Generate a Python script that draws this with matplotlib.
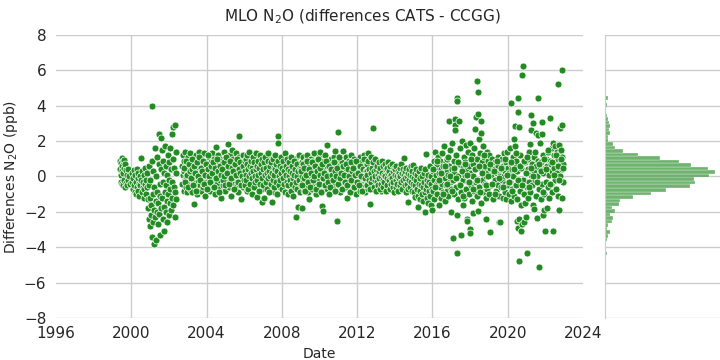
import numpy as np
import matplotlib
matplotlib.use("Agg")
import matplotlib.pyplot as plt

# sample dates are years since 2000, diffs are CATS - CCGG in ppb

# 1999 - 2002 (start of record, noisy period)
t_early = [-0.60, -0.58, -0.57, -0.55, -0.53, -0.52, -0.50, -0.48, -0.47, -0.45, -0.43, -0.42, -0.40,
           -0.38, -0.37, -0.35, -0.33, -0.30, -0.28, -0.25, -0.22, -0.20, -0.17, -0.12, -0.08,
           0.02, 0.05, 0.08, 0.10, 0.13, 0.15, 0.18, 0.20, 0.23, 0.25, 0.28, 0.30, 0.33, 0.35, 0.38,
           0.40, 0.43, 0.45, 0.48, 0.50, 0.52, 0.55, 0.58, 0.60, 0.63, 0.65, 0.68, 0.70, 0.73, 0.75,
           0.78, 0.80, 0.83, 0.85, 0.88,
           0.90, 0.92, 0.94, 0.96, 0.98, 1.00, 1.02, 1.04, 1.06, 1.08, 1.10, 1.12, 1.14, 1.15, 1.17,
           1.19, 1.21, 1.23, 1.25, 1.27, 1.29, 1.31, 1.33, 1.35, 1.37, 1.39, 1.41, 1.43, 1.45, 1.47,
           1.49, 1.50, 1.52, 1.54, 1.56, 1.58, 1.60,
           1.62, 1.64, 1.66, 1.68, 1.70, 1.72, 1.74, 1.76, 1.78, 1.80, 1.82, 1.84, 1.86, 1.88, 1.90,
           1.92, 1.94, 1.96, 1.98, 2.00, 2.02, 2.04, 2.06, 2.08, 2.10, 2.12, 2.14, 2.16, 2.18, 2.20,
           2.22, 2.24, 2.26, 2.28, 2.30, 2.32, 2.34, 2.36, 2.38, 2.40]
d_early = [0.45, 0.9, -0.3, 0.75, 0.1, 1.05, -0.45, 0.6, 0.3, 0.85, -0.5, 0.2, 0.95,
           -0.2, 0.5, 0.7, -0.6, 0.35, -0.35, 0.1, -0.5, 0.4, -0.2, 0.05, -0.4,
           -0.3, 0.2, -0.7, -0.1, 0.35, -0.5, -0.9, 0.1, -0.3, -1.0, 0.4, -0.6, -0.1, -0.8, 0.2,
           -0.4, -1.1, 0.0, -0.5, 1.05, -0.2, -0.9, 0.3, -0.6, -0.3, -1.2, 0.1, -0.7, -0.4, 0.5,
           -1.0, -0.2, -0.6, 0.2, -1.3,
           -1.8, -0.5, -2.4, 0.6, -1.2, -2.8, -0.2, -1.6, -2.2, 0.9, 4.0, -3.4, -1.0, -2.6, 0.3,
           -1.9, -3.8, -0.6, 1.6, -2.3, -1.4, -3.6, 0.0, -2.0, 1.1, -0.9, -2.7, -1.5, 0.7, -2.1,
           2.4, -0.4, -3.3, -1.1, 2.2, -1.8, 0.4,
           -1.2, 1.5, -2.4, -0.3, 0.9, -1.7, -3.1, 0.2, -0.9, 1.7, -2.0, -0.5, 0.6, -1.4, -2.6,
           0.1, 1.2, -1.0, -0.2, -2.2, 0.8, -1.5, 1.6, -0.7, -1.9, 0.4, 2.4, -1.2, -0.3, 1.0,
           -1.6, 2.8, -0.6, 0.5, -2.3, 2.9, -0.9, 1.4, -1.3, 0.2]

# 2002.7 - 2009
t_mid1 = [2.70, 2.72, 2.74, 2.76, 2.78, 2.80, 2.82, 2.84, 2.86, 2.88, 2.90, 2.92, 2.94, 2.96, 2.98,
          3.00, 3.02, 3.04, 3.06, 3.08, 3.10, 3.12, 3.14, 3.16, 3.18, 3.20, 3.22, 3.24, 3.26, 3.28,
          3.30, 3.32, 3.35, 3.37, 3.39, 3.41, 3.43, 3.45, 3.47, 3.49, 3.51, 3.53, 3.55, 3.57, 3.59,
          3.61, 3.63, 3.65, 3.67, 3.69, 3.71, 3.73, 3.75, 3.77, 3.79, 3.81, 3.83, 3.85, 3.87, 3.89,
          3.91, 3.93, 3.95, 3.97, 3.99,
          4.01, 4.03, 4.06, 4.08, 4.11, 4.13, 4.15, 4.18, 4.20, 4.23, 4.25, 4.27, 4.30, 4.32, 4.35,
          4.37, 4.39, 4.42, 4.44, 4.47, 4.50, 4.52, 4.54, 4.57, 4.59, 4.61, 4.64, 4.66, 4.69, 4.71,
          4.73, 4.76, 4.78, 4.81, 4.83, 4.85, 4.88, 4.90, 4.93, 4.95, 4.97, 5.00, 5.02, 5.05, 5.07,
          5.09, 5.12, 5.15, 5.17, 5.19, 5.22, 5.24, 5.26, 5.29, 5.31, 5.34, 5.36, 5.38, 5.41, 5.43,
          5.46, 5.48, 5.50, 5.53, 5.55, 5.58, 5.60, 5.62, 5.65, 5.67, 5.70, 5.72, 5.74, 5.77, 5.79,
          5.81, 5.84, 5.86, 5.89, 5.91, 5.93, 5.96, 5.98]
d_mid1 = [0.6, -0.4, 1.2, 0.1, -0.8, 0.9, 0.3, -0.2, 1.4, 0.5, -0.6, 0.0, 0.8, -0.9, 0.4,
          1.1, -0.3, 0.2, 0.7, -0.5, 1.3, 0.1, -0.7, 0.5, 0.9, -0.1, 0.3, -0.9, 0.6, 1.0,
          -0.4, 0.2, -1.55, 0.8, -0.2, 0.4, 1.2, -0.6, 0.0, 0.7, -1.0, 0.3, 0.9, -0.3, 0.5,
          1.4, -0.5, 0.1, 0.6, -0.8, 0.2, 1.0, -0.2, 0.4, -0.6, 0.8, 0.0, 1.3, -0.4, 0.3,
          0.7, -1.1, 0.1, 0.5, -0.3,
          0.4, -0.5, 0.9, 0.1, -0.2, 1.1, 0.5, -0.8, 0.3, 0.8, -0.1, 1.3, 0.2, -0.6, 0.6,
          1.0, -0.3, 0.4, -1.0, 0.7, 1.65, 0.0, 0.5, -0.4, 1.2, 0.2, -0.7, 0.8, 0.3, -0.2,
          1.0, 0.6, -1.2, 0.1, 0.9, -0.5, 0.4, 1.4, -0.1, 0.7, -0.8, 0.2, 1.1, -0.3, 0.5,
          0.0, 0.9, 1.82, -0.6, 0.3, 1.2, -0.2, 0.6, -1.1, 0.8, 0.1, 1.5, -0.4, 0.4, 1.0,
          -0.7, 0.2, 0.7, -0.1, 1.3, 0.5, -0.5, 0.0, 0.9, -0.9, 0.3, 2.28, 1.1, -0.3, 0.6,
          -1.3, 0.2, 0.8, -0.2, 1.2, 0.4, -0.6, 0.7]

t_mid2 = [6.02, 6.04, 6.07, 6.09, 6.12, 6.14, 6.16, 6.19, 6.21, 6.24, 6.27, 6.29, 6.31, 6.34, 6.36,
          6.39, 6.41, 6.44, 6.46, 6.48, 6.51, 6.53, 6.56, 6.58, 6.61, 6.63, 6.66, 6.68, 6.70, 6.73,
          6.75, 6.78, 6.80, 6.83, 6.85, 6.87, 6.90, 6.92, 6.95, 6.97, 7.00, 7.02, 7.05, 7.07, 7.09,
          7.12, 7.14, 7.17, 7.19, 7.22, 7.24, 7.27, 7.29, 7.31, 7.34, 7.36, 7.39, 7.41, 7.44, 7.46,
          7.48, 7.51, 7.53, 7.56, 7.58, 7.60, 7.63, 7.65, 7.68, 7.70, 7.73, 7.75, 7.78, 7.80, 7.82,
          7.85, 7.87, 7.90, 7.92, 7.95, 7.97, 8.00, 8.02, 8.05, 8.07, 8.10, 8.12, 8.15, 8.17, 8.20,
          8.22, 8.25, 8.27, 8.30, 8.32, 8.34, 8.37, 8.39, 8.42, 8.44, 8.47, 8.49, 8.52, 8.54, 8.56,
          8.59, 8.61, 8.64, 8.66, 8.69, 8.71, 8.73, 8.75, 8.78, 8.80, 8.83, 8.85, 8.88, 8.90, 8.93,
          8.95, 8.98]
d_mid2 = [0.3, -0.5, 1.0, 0.1, -0.2, 0.7, 1.2, -0.7, 0.4, 0.0, 1.4, 0.6, -0.4, 0.2, 0.9,
          -1.0, 0.5, -0.1, 1.1, 0.3, -0.6, 0.8, 0.0, -0.3, 1.3, 0.4, -1.18, 0.6, -0.2, 0.9,
          0.1, -0.8, 0.5, 1.2, -0.4, 0.2, 0.7, -0.1, 1.0, -1.46, 0.4, -0.5, 0.8, -1.23, 0.1,
          1.1, -0.3, 0.5, -0.7, 0.2, 0.9, -0.1, 1.3, 0.3, -0.9, 0.6, 0.0, -0.4, 0.8, -1.46,
          0.2, 1.0, -0.2, 0.5, -0.6, 0.1, 1.2, 0.4, -0.3, 0.7, -1.0, 0.3, 0.9, 2.29, 1.87,
          -0.5, 0.0, 0.6, -0.2, 1.1, 0.2, -0.7, 0.5, -0.1, 0.9, -0.4, 0.3, 1.3, -0.9, 0.1,
          0.6, -0.3, 1.0, -1.0, 0.4, -0.5, 0.0, 0.8, -0.2, 0.3, -0.8, 1.1, 0.2, -0.4, 0.6,
          -0.1, -1.1, 0.9, 0.1, -0.6, 0.4, -0.3, -2.3, 0.7, 0.0, -0.7, -1.7, 0.3, 1.2, -0.2,
          0.5, -0.9]

# 2009 - 2016
t_mid3 = [9.00, 9.02, 9.05, 9.07, 9.09, 9.12, 9.14, 9.16, 9.19, 9.21, 9.23, 9.26, 9.28, 9.30, 9.33,
          9.35, 9.37, 9.40, 9.42, 9.44, 9.46, 9.49, 9.51, 9.53, 9.56, 9.58, 9.60, 9.63, 9.65, 9.67,
          9.70, 9.72, 9.74, 9.77, 9.79, 9.81, 9.84, 9.86, 9.88, 9.91, 9.93, 9.95, 9.98, 10.00, 10.03,
          10.05, 10.07, 10.10, 10.12, 10.15, 10.17, 10.19, 10.21, 10.24, 10.26, 10.28, 10.31, 10.33,
          10.35, 10.38, 10.40, 10.42, 10.45, 10.47, 10.49, 10.52, 10.54, 10.56, 10.59, 10.61, 10.63,
          10.66, 10.68, 10.70, 10.73, 10.75, 10.77, 10.80, 10.83, 10.85, 10.87, 10.89, 10.92, 10.95,
          10.97, 10.99, 11.01, 11.04, 11.06, 11.08, 11.11, 11.13, 11.15, 11.18, 11.20, 11.22, 11.25,
          11.27, 11.29, 11.32, 11.34, 11.36, 11.39, 11.41, 11.43, 11.45, 11.48, 11.50, 11.52, 11.55,
          11.57, 11.59, 11.62, 11.64, 11.66, 11.69, 11.71, 11.73, 11.76, 11.78, 11.80, 11.83, 11.85,
          11.87, 11.90, 11.92, 11.94, 11.97, 11.99, 12.01, 12.04, 12.06, 12.08, 12.11, 12.13, 12.15,
          12.18, 12.20, 12.22, 12.25, 12.27, 12.29, 12.32, 12.34, 12.36, 12.39, 12.41, 12.43, 12.46,
          12.48]
d_mid3 = [0.4, -0.5, -1.8, 0.8, 0.0, -0.3, 1.1, 0.3, -0.8, 0.5, -0.1, 0.9, -0.6, 0.2, 1.2,
          -0.2, 0.6, -0.9, 0.1, 0.7, -1.29, 0.3, -0.4, 1.0, 0.0, -0.7, 0.5, -0.2, 0.9, 0.2,
          -0.5, 1.3, -0.1, 0.4, -1.0, 0.6, 0.0, -0.3, 0.8, 0.2, -0.6, 1.1, -0.2, 0.5, 1.37,
          -0.4, 0.1, 0.7, -0.8, -1.67, -1.95, 0.3, -0.1, 0.9, -0.5, 0.4, 1.2, -0.3,
          0.0, 0.6, 1.78, -0.7, 0.2, -0.2, 0.8, -1.0, 0.4, 0.0, 1.0, -0.4, 0.3,
          -0.1, 0.7, -0.6, 0.1, 1.1, -0.3, 0.5, 1.44, -0.8, 0.2, -0.2, 0.9, -2.52,
          2.5, 0.0, -0.5, 0.6, 0.3, -0.9, 1.0, -0.1, 0.4, -0.4, 0.8, 0.0, -0.7,
          1.44, 0.2, -0.3, 0.6, -0.1, 1.1, -0.6, 0.3, -1.23, 0.7, -0.2, 0.1, 0.9,
          -0.5, 0.4, -0.9, 0.0, 1.2, -0.3, 0.5, -0.1, 0.8, -0.7, 0.2, 1.0, -0.4,
          0.3, -0.1, 0.7, -1.0, 0.4, 0.0, -0.5, 0.9, 0.1, -0.3, 0.6, -0.8, 1.1,
          0.2, -0.2, 0.5, -0.6, 0.8, 0.0, -0.4, 0.4, 1.2, -0.1, -0.9, 0.6, 0.2,
          -0.3]

t_mid4 = [12.50, 12.53, 12.55, 12.57, 12.60, 12.62, 12.64, 12.67, 12.69, 12.71, 12.74, 12.76, 12.78,
          12.81, 12.83, 12.86, 12.88, 12.90, 12.93, 12.95, 12.97, 13.00, 13.02, 13.04, 13.07, 13.09,
          13.11, 13.14, 13.16, 13.18, 13.21, 13.23, 13.25, 13.28, 13.30, 13.32, 13.35, 13.37, 13.39,
          13.42, 13.44, 13.46, 13.49, 13.51, 13.53, 13.56, 13.58, 13.60, 13.63, 13.65, 13.67, 13.70,
          13.72, 13.74, 13.77, 13.79, 13.81, 13.84, 13.86, 13.88, 13.91, 13.93, 13.95, 13.98, 14.00,
          14.02, 14.05, 14.07, 14.09, 14.12, 14.14, 14.16, 14.19, 14.21, 14.23, 14.26, 14.28, 14.30,
          14.33, 14.35, 14.37, 14.40, 14.42, 14.44, 14.47, 14.50, 14.52, 14.54, 14.56, 14.59, 14.61,
          14.63, 14.66, 14.68, 14.70, 14.72, 14.75, 14.77, 14.79, 14.82, 14.84, 14.86, 14.89, 14.91,
          14.93, 14.95, 14.98, 15.00, 15.03, 15.05, 15.08, 15.10, 15.12, 15.15, 15.17, 15.20, 15.22,
          15.25, 15.27, 15.29, 15.32, 15.34, 15.36, 15.39, 15.41, 15.43, 15.46, 15.48, 15.50, 15.53,
          15.55, 15.58, 15.60, 15.62, 15.64, 15.66, 15.69, 15.71, 15.73, 15.76, 15.78, 15.80, 15.83,
          15.85, 15.87, 15.90, 15.92, 15.94, 15.97, 15.99]
d_mid4 = [0.7, -0.5, 0.1, 0.9, 1.35, -0.2, 0.4, -0.7, -1.57, 0.2, 1.1, -0.3, 0.5,
          -0.1, 0.8, 2.72, -0.6, 0.3, -0.2, 1.0, 0.0, -0.8, 0.4, -0.3, 0.6, 0.1,
          -0.5, 0.8, -0.1, 0.3, -0.7, 0.5, 0.0, -0.4, 0.9, 0.2, -0.2, 0.6, -0.6,
          0.1, -0.3, 0.7, 0.0, -0.8, 0.4, -0.1, 0.5, -0.5, 0.2, 0.8, -0.2, 0.3,
          -0.7, 0.0, 0.6, -0.4, 0.1, -0.1, 0.7, -0.6, 0.3, -0.3, 0.5, -0.9, 0.1,
          0.4, -0.2, -0.6, 0.6, 0.0, -0.4, 0.3, -0.8, 0.2, -0.1, 0.5, -0.5, 0.0,
          0.7, -0.3, 0.2, -0.7, 0.4, -0.2, 0.1, 1.03, -0.5, 0.3, -0.1, -0.9, 0.5,
          0.0, -0.4, 0.2, -0.7, -1.46, 0.4, -0.2, 0.1, -0.6, 0.6, -0.3, 0.0, -0.8,
          0.3, 0.65, -0.4, -0.1, -0.9, 0.2, -1.18, -0.5, 0.4, -0.2, -0.7, 0.1, -1.1,
          -1.7, -0.4, 0.3, -0.8, -0.1, -1.3, 0.5, -0.5, -1.0, 0.0, -0.6, -1.4, 0.2,
          -0.3, -0.9, -2.0, 0.4, -0.7, 1.27, -0.2, -1.2, -0.5, 0.1, -1.5, -0.3, -0.8,
          0.6, -1.1, -0.4, 0.0, -1.6, -0.7, -1.9]

# extra samples in the dense 2002.8 - 2016 band
t_fill1 = [2.80, 2.85, 2.90, 2.95, 3.00, 3.05, 3.10, 3.15, 3.20, 3.25,
           3.30, 3.35, 3.40, 3.45, 3.50, 3.55, 3.60, 3.65, 3.70, 3.75,
           3.80, 3.85, 3.90, 3.95, 4.00, 4.05, 4.10, 4.15, 4.20, 4.25,
           4.30, 4.35, 4.40, 4.45, 4.50, 4.55, 4.60, 4.65, 4.70, 4.75,
           4.80, 4.85, 4.90, 4.95, 5.00, 5.05, 5.10, 5.15, 5.20, 5.25,
           5.30, 5.35, 5.40, 5.45, 5.50, 5.55, 5.60, 5.65, 5.70, 5.75,
           5.80, 5.85, 5.90, 5.95, 6.00, 6.05, 6.10, 6.15, 6.20, 6.25,
           6.30, 6.35, 6.40, 6.45, 6.50, 6.55, 6.60, 6.65, 6.70, 6.75,
           6.80, 6.85, 6.90, 6.95, 7.00, 7.05, 7.10, 7.15, 7.20, 7.25,
           7.30, 7.35, 7.40, 7.45, 7.50, 7.55, 7.60, 7.65, 7.70, 7.75,
           7.80, 7.85, 7.90, 7.95, 8.00, 8.05, 8.10, 8.15, 8.20, 8.25,
           8.30, 8.35, 8.40, 8.45, 8.50, 8.55, 8.60, 8.65, 8.70, 8.75,
           8.80, 8.85, 8.90, 8.95]
d_fill1 = [0.5, -0.3, 0.9, 0.1, -0.6, 0.7, 0.3, -0.1, 1.0, 0.4,
           -0.5, 0.6, 0.2, -0.8, 0.8, 0.0, 1.1, -0.2, 0.5, 0.3,
           0.9, -0.4, 0.1, 0.7, -0.7, 0.4, 1.2, 0.0, -0.3, 0.6,
           0.2, 0.8, -0.6, 0.5, -0.1, 1.0, 0.3, -0.9, 0.6, 0.1,
           0.4, -0.2, 0.8, 0.0, -0.5, 1.1, 0.2, 0.6, -0.4, 0.9,
           -0.1, 0.5, 0.3, -0.7, 0.7, 0.1, 1.0, -0.3, 0.4, 0.2,
           0.8, -0.5, 0.0, 0.6, -0.2, 0.9, 0.3, -0.8, 0.5, 1.1,
           0.1, -0.4, 0.7, 0.2, -0.6, 0.4, 1.0, -0.1, 0.6, 0.0,
           -0.3, 0.8, 0.3, -0.7, 0.5, 0.9, -0.2, 0.1, 0.7, -0.5,
           0.4, 1.2, 0.0, -0.4, 0.6, 0.2, -0.9, 0.8, 0.3, -0.1,
           0.5, 1.0, -0.6, 0.1, 0.7, -0.3, 0.4, 0.9, -0.2, 0.2,
           0.6, -0.5, 0.0, 0.8, 0.3, -0.7, 0.5, -0.1, 1.0, 0.1,
           0.4, -0.4, 0.7, -0.2]

t_fill2 = [9.00, 9.05, 9.10, 9.15, 9.20, 9.25, 9.30, 9.35, 9.40, 9.45,
           9.50, 9.55, 9.60, 9.65, 9.70, 9.75, 9.80, 9.85, 9.90, 9.95,
           10.00, 10.05, 10.10, 10.15, 10.20, 10.25, 10.30, 10.35, 10.40, 10.45,
           10.50, 10.55, 10.60, 10.65, 10.70, 10.75, 10.80, 10.85, 10.90, 10.95,
           11.00, 11.05, 11.10, 11.15, 11.20, 11.25, 11.30, 11.35, 11.40, 11.45,
           11.50, 11.55, 11.60, 11.65, 11.70, 11.75, 11.80, 11.85, 11.90, 11.95,
           12.00, 12.05, 12.10, 12.15, 12.20, 12.25, 12.30, 12.35, 12.40, 12.45,
           12.50, 12.55, 12.60, 12.65, 12.70, 12.75, 12.80, 12.85, 12.90, 12.95,
           13.00, 13.05, 13.10, 13.15, 13.20, 13.25, 13.30, 13.35, 13.40, 13.45,
           13.50, 13.55, 13.60, 13.65, 13.70, 13.75, 13.80, 13.85, 13.90, 13.95,
           14.00, 14.05, 14.10, 14.15, 14.20, 14.25, 14.30, 14.35, 14.40, 14.45,
           14.50, 14.55, 14.60, 14.65, 14.70, 14.75, 14.80, 14.85, 14.90, 14.95,
           15.00, 15.05, 15.10, 15.15, 15.20, 15.25, 15.30, 15.35, 15.40, 15.45,
           15.50, 15.55, 15.60, 15.65, 15.70, 15.75, 15.80, 15.85, 15.90, 15.95]
d_fill2 = [0.3, -0.5, 0.7, -0.1, 0.5, -0.8, 0.1, 0.9, -0.3, 0.4,
           -0.6, 0.2, 0.8, -0.2, 0.0, 0.6, -0.7, 0.3, 1.0, -0.4,
           0.1, 0.5, -0.9, 0.7, -0.1, 0.2, -0.5, 0.9, 0.0, -0.3,
           0.6, -0.6, 0.4, 0.1, -0.2, 0.8, -0.8, 0.3, 0.0, 0.5,
           -0.4, 1.1, -0.1, 0.2, -0.7, 0.6, 0.1, -0.3, 0.7, -0.5,
           0.4, 0.0, -0.9, 0.8, -0.2, 0.3, 0.5, -0.6, 0.1, 0.9,
           -0.3, 0.2, -0.5, 0.6, 0.0, -0.8, 0.4, 1.0, -0.1, 0.3,
           -0.4, 0.3, -0.7, 0.5, -0.1, 0.1, -0.5, 0.6, -0.3, 0.0,
           0.4, -0.6, 0.2, -0.2, 0.7, -0.8, 0.1, -0.4, 0.3, -0.1,
           0.5, -0.5, 0.0, -0.7, 0.2, 0.4, -0.3, 0.1, -0.6, 0.6,
           -0.2, 0.3, -0.8, 0.0, 0.5, -0.4, 0.2, -0.1, -0.6, 0.4,
           0.1, -0.5, 0.3, -0.3, 0.0, -0.7, 0.5, -0.2, 0.2, -0.4,
           -0.8, 0.1, -0.5, -1.1, -0.2, 0.3, -0.7, -0.4, -1.0, 0.0,
           -0.6, -1.3, -0.3, 0.2, -0.9, -0.5, -0.1, -1.2, -0.4, -0.7]

# 2016 - 2019.6 (noisier)
t_late1 = [16.01, 16.03, 16.06, 16.08, 16.10, 16.13, 16.15, 16.18, 16.20, 16.23, 16.25, 16.28, 16.30,
           16.33, 16.35, 16.38, 16.40, 16.43, 16.45, 16.48, 16.50, 16.53, 16.55, 16.58, 16.60, 16.63,
           16.65, 16.68, 16.70, 16.73, 16.75, 16.78, 16.80, 16.83, 16.85, 16.87, 16.90, 16.92, 16.95,
           16.97, 17.00, 17.02, 17.05, 17.07, 17.10, 17.12, 17.15, 17.17, 17.20, 17.21, 17.22, 17.25,
           17.27, 17.30, 17.31, 17.32, 17.33, 17.35, 17.38, 17.40, 17.42, 17.45, 17.48, 17.50, 17.52,
           17.55, 17.57, 17.60, 17.62, 17.65, 17.67, 17.70, 17.72, 17.75, 17.77, 17.80, 17.82, 17.85,
           17.86, 17.88, 17.90, 17.93, 17.95, 17.98, 18.00, 18.01, 18.03, 18.05, 18.08, 18.10, 18.13,
           18.15, 18.17, 18.20, 18.22, 18.25, 18.28, 18.30, 18.32, 18.35, 18.38, 18.39, 18.40, 18.41,
           18.44, 18.46, 18.48, 18.50, 18.53, 18.56, 18.58, 18.60, 18.62, 18.65, 18.68, 18.70, 18.72,
           18.75, 18.78, 18.80, 18.83, 18.85, 18.87, 18.90, 18.92, 18.95, 18.97, 19.00, 19.03, 19.06,
           19.08, 19.10, 19.13, 19.16, 19.20, 19.25, 19.30, 19.35, 19.40, 19.43, 19.46, 19.48, 19.50,
           19.52, 19.55, 19.57, 19.60]
d_late1 = [0.3, -0.8, 0.9, -0.2, -1.3, 0.5, 1.4, -0.5, 0.1, -1.0, 0.7, -0.3, 1.1,
           -1.6, 0.2, -0.6, 0.9, 0.0, -1.2, 0.4, 1.3, -0.4, 0.6, -0.9, 0.2, 1.7,
           -0.1, -1.4, 0.8, -0.5, 0.3, 1.0, -0.8, 0.1, -1.1, 3.12, 0.6, -0.3, 1.5,
           -0.7, -2.0, 0.4, 1.9, -0.2, -3.5, 0.9, -1.0, 0.2, 3.23, 2.9, 2.63, -0.6,
           1.2, -2.18, -4.34, 4.45, 4.27, 0.0, -1.3, 3.12, 0.7, -0.4, 1.6, -3.3, -0.9,
           0.3, 2.0, -1.6, 0.5, -0.2, 1.1, -1.2, 0.8, 0.1, 1.8, -0.7, 0.4, -2.4,
           -2.5, 1.4, -0.3, 0.6, -1.0, 1.9, -2.97, -3.2, 0.2, -0.5, 1.2, -1.4, 0.7,
           0.0, -2.08, 1.6, -0.8, 0.4, 2.67, 3.35, -0.3, 1.0, -1.1, 5.42, 4.76, -1.93,
           3.53, 2.1, 0.5, -0.6, 1.3, 2.44, -1.5, 3.15, 0.8, -0.2, 1.7, -0.9, 0.3,
           1.1, -0.4, 0.6, -1.2, 0.0, -2.4, 1.4, -0.7, 0.9, 0.2, -1.0, 1.2, -3.15,
           0.5, -0.5, 0.1, 1.0, -1.3, 0.4, -0.2, 0.8, -0.8, 0.2, 1.1, -0.5, 0.6,
           -1.1, -2.59, 0.0, -2.55]

# 2019.6 - 2023
t_late2 = [19.62, 19.65, 19.68, 19.70, 19.73, 19.75, 19.78, 19.80, 19.83, 19.85, 19.88, 19.90, 19.93,
           19.95, 19.98, 20.00, 20.03, 20.05, 20.08, 20.10, 20.13, 20.15, 20.18, 20.20, 20.23, 20.25,
           20.28, 20.30, 20.33, 20.35, 20.37, 20.39, 20.40, 20.42, 20.45, 20.48, 20.50, 20.52, 20.54,
           20.56, 20.57, 20.58, 20.60, 20.62, 20.64, 20.66, 20.68, 20.70, 20.72, 20.75, 20.78, 20.80,
           20.83, 20.85, 20.88, 20.90, 20.93, 20.95, 20.98, 21.00, 21.04, 21.06, 21.08, 21.10, 21.13,
           21.15, 21.18, 21.20, 21.22, 21.24, 21.25, 21.28, 21.30, 21.33, 21.36, 21.38, 21.40, 21.42,
           21.45, 21.48, 21.50, 21.52, 21.55, 21.57, 21.60, 21.61, 21.63, 21.65, 21.68, 21.70, 21.72,
           21.75, 21.78, 21.80, 21.82, 21.84, 21.86, 21.88, 21.90, 21.93, 21.95, 21.98, 22.00, 22.03,
           22.05, 22.08, 22.10, 22.13, 22.15, 22.18, 22.20, 22.23, 22.26, 22.28, 22.30, 22.33, 22.35,
           22.38, 22.40, 22.43, 22.45, 22.48, 22.50, 22.52, 22.55, 22.58, 22.60, 22.62, 22.65, 22.67,
           22.69, 22.70, 22.72, 22.74, 22.76, 22.78, 22.80, 22.82, 22.84, 22.86, 22.87, 22.88, 22.90,
           22.91, 22.93, 22.95]
d_late2 = [0.4, -0.6, 1.0, -0.2, -1.2, 0.6, 1.3, 0.0, -0.9, 0.3, -0.4, 0.8, -1.3,
           0.1, 1.4, -0.5, 0.5, -1.0, 0.2, 1.6, -0.3, 0.7, 4.14, -1.4, 0.4, -0.7,
           1.1, 0.0, 2.1, -1.1, 0.6, 1.74, 2.84, -0.5, 0.9, -2.5, -1.3, 0.3, -2.9,
           4.42, 3.63, 2.78, -2.4, -4.78, -0.8, 1.2, -3.1, -1.6, 0.5, -2.7, 5.74, -0.2,
           6.25, -1.0, -2.6, 0.8, -1.5, -2.3, 0.2, -0.6, -4.34, 1.0, -1.2, 0.4, -0.3,
           1.4, -0.9, 1.82, 0.1, 3.46, 2.61, -0.5, 0.7, -1.6, 3.0, 0.3, -1.85, 1.1,
           -0.2, 0.6, -1.1, 2.46, 0.0, -2.36, 2.33, 4.42, 0.9, -0.7, -5.13, 0.4, 1.88,
           -1.3, 0.8, 3.06, -0.4, 2.38, -2.2, 0.2, 1.2, -1.0, -1.87, 0.5, -3.06, -0.3,
           1.0, -1.77, 0.6, -0.6, 1.4, 0.1, -1.2, 0.9, 3.31, -0.4, 0.7, 1.6, -0.9,
           0.3, 1.9, -3.1, 0.5, 1.2, -0.2, 1.7, 0.8, -0.7, 1.4, 0.2, 1.0, -1.1,
           5.21, 1.8, 0.6, -1.9, 1.3, 0.0, 2.72, 0.9, 1.5, -1.2, 2.91, 0.4, 6.04,
           1.1, -0.3, 0.7]

# extra samples 2016 - 2023
t_fill3 = [16.05, 16.15, 16.25, 16.35, 16.45, 16.55, 16.65, 16.75, 16.85, 16.95,
           17.05, 17.15, 17.25, 17.35, 17.45, 17.55, 17.65, 17.75, 17.85, 17.95,
           18.05, 18.15, 18.25, 18.35, 18.45, 18.55, 18.65, 18.75, 18.85, 18.95,
           19.05, 19.15, 19.25, 19.35, 19.45, 19.55, 19.65, 19.75, 19.85, 19.95,
           20.05, 20.15, 20.25, 20.35, 20.45, 20.55, 20.65, 20.75, 20.85, 20.95,
           21.05, 21.15, 21.25, 21.35, 21.45, 21.55, 21.65, 21.75, 21.85, 21.95,
           22.05, 22.15, 22.25, 22.35, 22.45, 22.55, 22.65, 22.75, 22.85, 22.95]
d_fill3 = [0.4, -0.6, 0.9, -0.2, 0.2, -1.0, 0.6, -0.4, 1.1, 0.0,
           -0.8, 0.5, -0.1, 0.8, -0.5, 0.3, -1.1, 0.7, 0.1, -0.3,
           1.0, -0.7, 0.4, -0.2, 0.6, -0.9, 0.2, 1.2, -0.5, 0.0,
           0.7, -0.4, 0.3, -1.0, 0.9, -0.1, 0.5, -0.6, 1.0, 0.1,
           -0.3, 0.8, -0.8, 0.4, 1.3, -0.2, 0.6, -0.5, 0.9, 0.2,
           1.1, -0.6, 0.5, 0.0, 1.4, -0.3, 0.7, 0.3, -0.9, 1.0,
           0.4, 1.5, -0.4, 0.8, 0.1, 1.2, 0.6, -0.2, 1.0, 0.5]

year_ticks = [1996, 2000, 2004, 2008, 2012, 2016, 2020, 2024]
y_ticks = [-8, -6, -4, -2, 0, 2, 4, 6, 8]

t_all = np.concatenate([t_early, t_mid1, t_fill1, t_mid2, t_mid3, t_fill2, t_mid4,
                        t_late1, t_late2, t_fill3]) + 2000
d_all = np.concatenate([d_early, d_mid1, d_fill1, d_mid2, d_mid3, d_fill2, d_mid4,
                        d_late1, d_late2, d_fill3])

green = "#228b22"
grid_c = "#cccccc"
text_c = "#262626"

plt.rcParams["font.family"] = "DejaVu Sans"
fig = plt.figure(figsize=(7.2, 3.6), dpi=100)
ax = fig.add_axes([0.0778, 0.1167, 0.7319, 0.7861])
axm = fig.add_axes([0.8403, 0.1167, 0.1597, 0.7861], sharey=ax)

ax.set_axisbelow(True)
ax.grid(True, color=grid_c, linewidth=1.0)
ax.scatter(t_all, d_all, s=25, color=green, edgecolor="white", linewidth=0.5, zorder=3)
ax.set_xlim(1996, 2024)
ax.set_ylim(-8, 8)
ax.set_xticks(year_ticks)
ax.set_xticklabels([str(y) for y in year_ticks])
ax.set_yticks(y_ticks)
for s in ax.spines.values():
    s.set_visible(False)
gl = ax.get_xgridlines()
gl[0].set_visible(False)
gl[-1].set_visible(False)
ax.tick_params(length=0, labelsize=11, colors=text_c)
ax.tick_params(axis="x", pad=6)
ax.tick_params(axis="y", pad=7)
ax.set_xlabel("Date", fontsize=10, color=text_c, labelpad=4)
ax.set_ylabel("Differences N$_2$O (ppb)", fontsize=10, color=text_c, labelpad=3)

# marginal histogram
bins = np.arange(-5.25, 6.4, 0.2)
counts, _, _ = axm.hist(d_all, bins=bins, orientation="horizontal", color=green, alpha=0.65,
                        edgecolor="white", linewidth=0.3)
axm.set_xlim(0, counts.max() * 1.05)
axm.set_axisbelow(True)
axm.grid(True, axis="y", color=grid_c, linewidth=1.0)
axm.grid(False, axis="x")
for k, s in axm.spines.items():
    s.set_visible(k == "left")
axm.spines["left"].set_color(grid_c)
axm.tick_params(length=0, labelleft=False, labelbottom=False)

fig.suptitle("MLO N$_2$O (differences CATS - CCGG)", x=0.503, y=0.98, fontsize=11, color=text_c)

fig.savefig("out.png", dpi=100)
